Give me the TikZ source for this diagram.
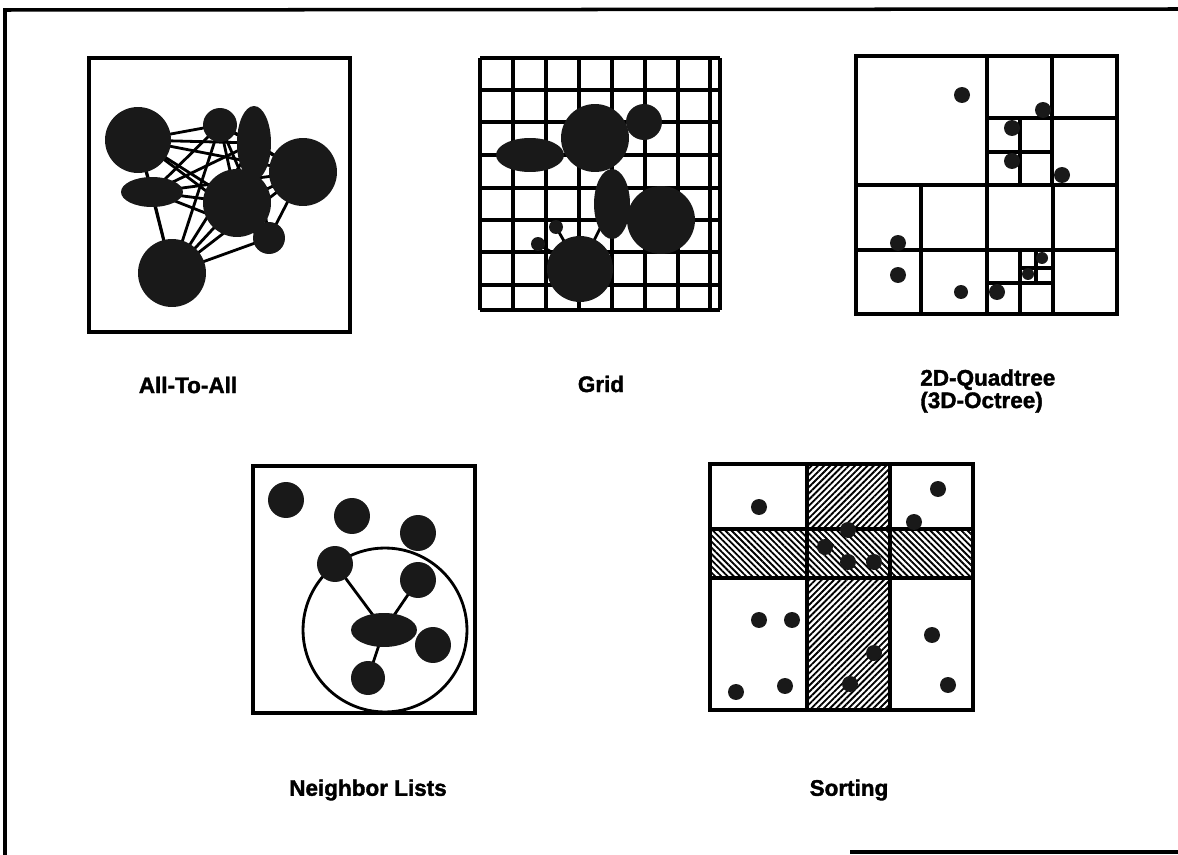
\documentclass[tikz,border=0pt]{standalone}
\usepackage{fontspec}
\setmainfont{Liberation Sans}[BoldFeatures={FakeBold=1.6}]
\usetikzlibrary{shapes.geometric,patterns.meta}
\pgfdeclarelayer{bg}
\pgfsetlayers{bg,main}
\begin{document}
\begin{tikzpicture}[x=0.02cm,y=-0.02cm,
  frame/.style={line width=2pt},
  gridline/.style={line width=1.8pt},
  blob/.style={fill=black!90,inner sep=0pt,outer sep=0pt},
  ball/.style={blob,circle,minimum size=#1*0.04cm},
  oval/.style 2 args={blob,ellipse,minimum width=#1*0.04cm,minimum height=#2*0.04cm},
  link/.style={line width=1.6pt},
  lbl/.style={font=\fontsize{12.8}{11.3}\selectfont\bfseries,inner sep=0pt}]
\useasboundingbox (0,0) rectangle (1178,855);
% outer frame
\draw[frame] (5,855) -- (5,10) -- (1178,9);
\draw[frame] (850,852) -- (1178,852);

% ---------- All-To-All ----------
\draw[frame] (89,58) rectangle (350,332);
\node[ball=33] (A1) at (138,140) {};
\node[ball=17] (A2) at (220,125) {};
\node[oval={17}{37}] (A3) at (254,143) {};
\node[ball=34] (A4) at (303,172) {};
\node[oval={31}{15}] (A5) at (152,192) {};
\node[ball=34] (A6) at (237,203) {};
\node[ball=16] (A7) at (269,238) {};
\node[ball=34] (A8) at (172,273) {};
\begin{pgfonlayer}{bg}
\foreach \i in {1,...,8}{\foreach \j in {1,...,8}{%
  \ifnum\i<\j \draw[link] (A\i.center) -- (A\j.center);\fi}}
\end{pgfonlayer}
\node[lbl] (L1) at (188,385) {All-To-All};

% ---------- Grid ----------
\foreach \x in {480,513,546,579,612,645,678,710,720}{\draw[gridline] (\x,58) -- (\x,310);}
\foreach \y in {58,90,122,155,188,220,252,285,310}{\draw[gridline] (480,\y) -- (720,\y);}
\node[oval={34}{17}] (G1) at (530,155) {};
\node[ball=34] (G2) at (595,138) {};
\node[ball=18] (G3) at (644,122) {};
\node[oval={18}{35}] (G4) at (612,204) {};
\node[ball=34] (G5) at (661,220) {};
\node[ball=33] (G6) at (580,269) {};
\node[ball=7] (G7) at (556,227) {};
\node[ball=7] (G8) at (538,244) {};
\begin{pgfonlayer}{bg}
\draw[link] (G4.center) -- (G6.center);
\draw[link] (G7.center) -- (G6.center);
\draw[link] (G8.center) -- (G6.center);
\end{pgfonlayer}
\node[lbl] (L2) at (601,384) {Grid};

% ---------- Quadtree ----------
\draw[frame] (856,56) rectangle (1117,314);
\draw[frame] (987,56) -- (987,314);
\draw[frame] (856,185) -- (1117,185);
\draw[gridline] (1052,56) -- (1052,185);
\draw[gridline] (987,118) -- (1117,118);
\draw[gridline] (1020,118) -- (1020,185);
\draw[gridline] (987,152) -- (1052,152);
\draw[gridline] (921,185) -- (921,314);
\draw[gridline] (856,250) -- (987,250);
\draw[gridline] (1053,185) -- (1053,314);
\draw[gridline] (987,250) -- (1117,250);
\draw[gridline] (1020,250) -- (1020,314);
\draw[gridline] (987,283) -- (1053,283);
\draw[gridline] (1036,250) -- (1036,283);
\draw[gridline] (1020,268) -- (1053,268);
\node[ball=8] (Q1) at (962,95) {};
\node[ball=8] (Q2) at (1043,110) {};
\node[ball=8] (Q3) at (1012,128) {};
\node[ball=8] (Q4) at (1012,161) {};
\node[ball=8] (Q5) at (1062,175) {};
\node[ball=8] (Q6) at (898,243) {};
\node[ball=8] (Q7) at (898,275) {};
\node[ball=7] (Q8) at (961,292) {};
\node[ball=8] (Q9) at (997,292) {};
\node[ball=6] (Q10) at (1042,258) {};
\node[ball=6] (Q11) at (1028,274) {};
\node[lbl,align=left,anchor=west] (L3) at (920,391) {2D-Quadtree\\(3D-Octree)};

% ---------- Neighbor Lists ----------
\draw[frame] (253,466) rectangle (475,713);
\node[circle,draw,line width=1.6pt,minimum size=82*0.04cm,inner sep=0pt] (NC) at (385,630) {};
\node[ball=18] (N1) at (286,500) {};
\node[ball=18] (N2) at (352,516) {};
\node[ball=18] (N3) at (418,533) {};
\node[ball=18] (N4) at (335,564) {};
\node[ball=18] (N5) at (418,580) {};
\node[oval={33}{17}] (N6) at (384,630) {};
\node[ball=18] (N7) at (433,645) {};
\node[ball=17] (N8) at (368,678) {};
\begin{pgfonlayer}{bg}
\draw[link] (N6.center) -- (N4.center);
\draw[link] (N6.center) -- (N5.center);
\draw[link] (N6.center) -- (N8.center);
\end{pgfonlayer}
\node[lbl] (L4) at (368,790) {Neighbor Lists};

% ---------- Sorting ----------
\fill[pattern={Lines[angle=45,distance=2.5pt,line width=1.05pt]}] (807,464) rectangle (890,710);
\fill[white] (710,529) rectangle (973,578);
\fill[pattern={Lines[angle=-45,distance=2.5pt,line width=1.05pt]}] (710,529) rectangle (973,578);
\draw[frame] (710,464) rectangle (973,710);
\draw[frame] (807,464) -- (807,710);
\draw[frame] (890,464) -- (890,710);
\draw[frame] (710,529) -- (973,529);
\draw[frame] (710,578) -- (973,578);
\node[ball=8] (S1) at (759,507) {};
\node[ball=8] (S2) at (938,489) {};
\node[ball=8] (S3) at (914,522) {};
\node[ball=8] (S4) at (848,530) {};
\node[ball=8] (S5) at (825,547) {};
\node[ball=8] (S6) at (848,562) {};
\node[ball=8] (S7) at (874,562) {};
\node[ball=8] (S8) at (759,620) {};
\node[ball=8] (S9) at (792,620) {};
\node[ball=8] (S10) at (932,635) {};
\node[ball=8] (S11) at (874,653) {};
\node[ball=8] (S12) at (785,686) {};
\node[ball=8] (S13) at (850,684) {};
\node[ball=8] (S14) at (948,685) {};
\node[ball=8] (S15) at (736,692) {};
\node[lbl] (L5) at (849,790) {Sorting};
\end{tikzpicture}
\end{document}
